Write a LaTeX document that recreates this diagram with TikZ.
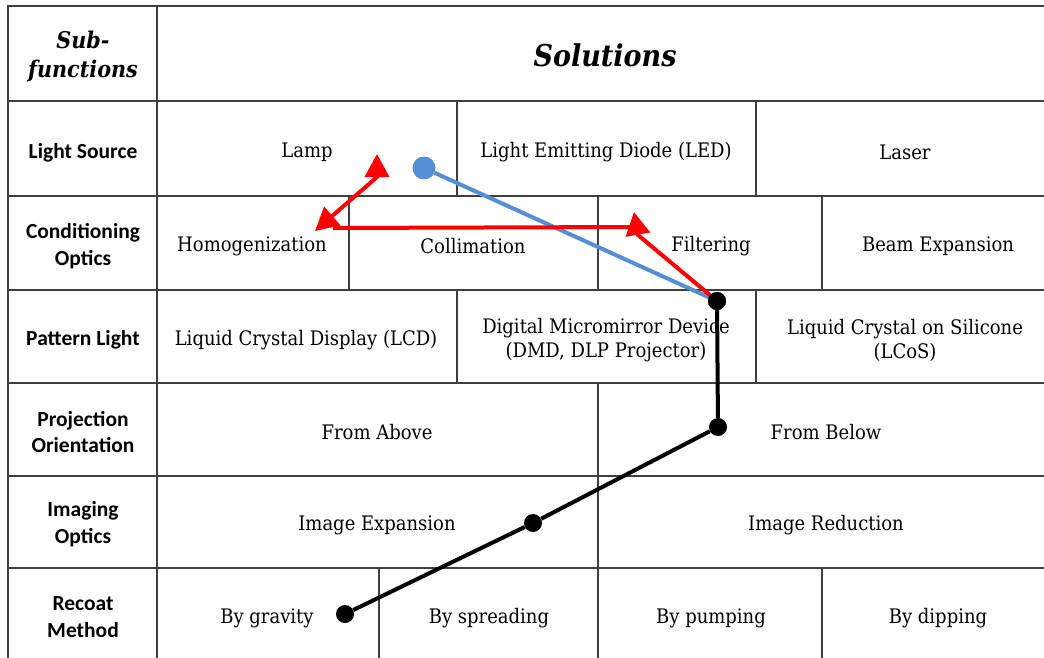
\documentclass[tikz,border=0pt]{standalone}
\usepackage{fontspec}
\setmainfont{DejaVu Serif Condensed}
\newfontfamily\lblfont{Carlito}
\usetikzlibrary{arrows.meta}
\definecolor{gridc}{HTML}{3F3F3F}
\definecolor{bluec}{HTML}{558ED5}
\tikzset{
  grid/.style={draw=gridc, line width=1.6pt},
  cell/.style={font=\fontsize{20}{24}\selectfont, align=center, text=black, yshift=-2pt},
  lbl/.style={font=\lblfont\bfseries\fontsize{21.5}{26.5}\selectfont, align=center, yshift=-2pt},
  hdr/.style={font=\bfseries\itshape\fontsize{23}{29}\selectfont, align=center},
  dot/.style={circle, fill=black, inner sep=0pt, minimum size=18pt},
  blk/.style={line width=4pt, black},
  redline/.style={line width=4pt, red},
}
\begin{document}
\begin{tikzpicture}[x=1pt,y=-1pt, >={Triangle[length=23pt,width=24pt]}]
\useasboundingbox (0,0) rectangle (1044,658);
\fill[white] (0,0) rectangle (1044,658);
\begin{scope}
\clip (0,0) rectangle (1044,658);
% grid
\draw[grid] (1060,6) -- (8,6) -- (8,670);
\draw[grid] (157,6) -- (157,670);
\foreach \y in {101,196,290,383,476,568} \draw[grid] (8,\y) -- (1060,\y);
\draw[grid] (457,101) -- (457,196);
\draw[grid] (756,101) -- (756,196);
\draw[grid] (349,196) -- (349,290);
\draw[grid] (598,196) -- (598,290);
\draw[grid] (822,196) -- (822,290);
\draw[grid] (457,290) -- (457,383);
\draw[grid] (756,290) -- (756,383);
\draw[grid] (598,383) -- (598,670);
\draw[grid] (379,568) -- (379,670);
\draw[grid] (822,568) -- (822,670);
\end{scope}
% headers
\node[hdr] (h1) at (83,56) {Sub-\\functions};
\node[hdr, font=\bfseries\itshape\fontsize{30}{34}\selectfont] (h2) at (605,55) {Solutions};
% row labels
\node[lbl] (l1) at (83,151) {Light Source};
\node[lbl] (l2) at (83,244) {Conditioning\\Optics};
\node[lbl] (l3) at (83,338) {Pattern Light};
\node[lbl] (l4) at (83,430) {Projection\\Orientation};
\node[lbl] (l5) at (83,522) {Imaging\\Optics};
\node[lbl] (l6) at (83,615) {Recoat\\Method};
% cells
\node[cell] (c11) at (307,150) {Lamp};
\node[cell] (c12) at (606,150) {Light Emitting Diode (LED)};
\node[cell] (c13) at (905,150) {Laser};
\node[cell] (c21) at (252,244) {Homogenization};
\node[cell] (c22) at (473,244) {Collimation};
\node[cell] (c23) at (711,244) {Filtering};
\node[cell] (c24) at (938,244) {Beam Expansion};
\node[cell] (c31) at (306,338) {Liquid Crystal Display (LCD)};
\node[cell] (c32) at (606,338) {Digital Micromirror Device\\(DMD, DLP Projector)};
\node[cell] (c33) at (905,338) {Liquid Crystal on Silicone\\(LCoS)};
\node[cell] (c41) at (377,430) {From Above};
\node[cell] (c42) at (826,430) {From Below};
\node[cell] (c51) at (377,523) {Image Expansion};
\node[cell] (c52) at (826,523) {Image Reduction};
\node[cell] (c61) at (267,616) {By gravity};
\node[cell] (c62) at (489,616) {By spreading};
\node[cell] (c63) at (711,616) {By pumping};
\node[cell] (c64) at (938,616) {By dipping};
% path markers
\node[dot] (d1) at (717,301) {};
\node[dot] (d2) at (718,427) {};
\node[dot] (d3) at (533,523) {};
\node[dot] (d4) at (345,614) {};
\node[circle, fill=bluec, inner sep=0pt, minimum size=23pt] (b0) at (424,168) {};
\coordinate (fb) at (638,235);
\coordinate (ft) at (634,212);
\coordinate (hl) at (634,227);
\coordinate (hr) at (333,228);
\coordinate (ht) at (315,231);
\coordinate (lb) at (377,177);
\coordinate (lt) at (377,154);
% connectors
\draw[line width=4pt, bluec] (b0) -- (d1.center);
\draw[redline, ->] (d1.center) -- (fb) -- (ft);
\draw[redline] (hl) -- (hr);
\draw[redline, <->] (ht) -- (lb) -- (lt);
\draw[blk] (d1) -- (d2);
\draw[blk] (d2) -- (d3);
\draw[blk] (d3) -- (d4);
\node[dot] at (d1) {};
\end{tikzpicture}
\end{document}
